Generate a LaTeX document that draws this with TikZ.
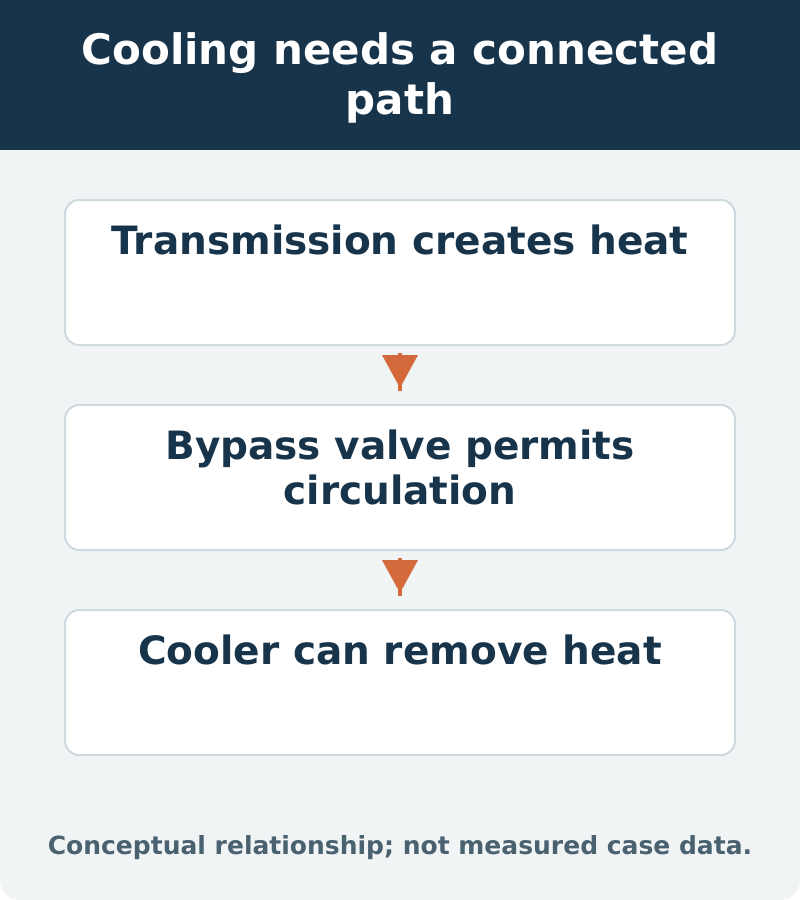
\documentclass[tikz,border=0pt]{standalone}
\usepackage{fontspec}
\setmainfont{DejaVu Sans}
\definecolor{navy}{HTML}{17344A}
\definecolor{bgpanel}{HTML}{F0F4F5}
\definecolor{boxline}{HTML}{CFDADE}
\definecolor{arrowc}{HTML}{D4693C}
\definecolor{foot}{HTML}{4A6270}
\begin{document}
\begin{tikzpicture}[x=1pt,y=-1pt,
  stepbox/.style={draw=boxline,line width=2pt,fill=white,rounded corners=14pt},
  boxtitle/.style={text=navy,font=\fontsize{39}{45}\selectfont\bfseries,align=center,anchor=center},
  flowarrow/.style={draw=arrowc,line width=4.5pt},
  arrowhead/.style={fill=arrowc}]
\useasboundingbox (0,0) rectangle (800,900);
\fill[bgpanel,rounded corners=20pt] (0,0) rectangle (800,900);
\fill[navy] (0,0) rectangle (800,150);
\node[text=white,font=\fontsize{42}{50}\selectfont\bfseries,align=center] (title) at (400,77.5) {Cooling needs a connected\\path};
\draw[stepbox] (65,200) rectangle (735,345);
\draw[stepbox] (65,405) rectangle (735,550);
\draw[stepbox] (65,610) rectangle (735,755);
\coordinate (b1) at (400,345);
\coordinate (b2t) at (400,405);
\coordinate (b2) at (400,550);
\coordinate (b3t) at (400,610);
\node[boxtitle] (t1) at (400,239.5) {Transmission creates heat};
\node[boxtitle] (t2) at (400,467) {Bypass valve permits\\circulation};
\node[boxtitle] (t3) at (400,649.5) {Cooler can remove heat};
\draw[flowarrow] ([yshift=-8pt]b1) -- ([yshift=14pt]b2t);
\fill[arrowhead] (382,355) -- (418,355) -- (400,388) -- cycle;
\draw[flowarrow] ([yshift=-8pt]b2) -- ([yshift=14pt]b3t);
\fill[arrowhead] (382,560) -- (418,560) -- (400,593) -- cycle;
\node[text=foot,font=\fontsize{25}{30}\selectfont\bfseries] (foot) at (400,848) {Conceptual relationship; not measured case data.};
\end{tikzpicture}
\end{document}
